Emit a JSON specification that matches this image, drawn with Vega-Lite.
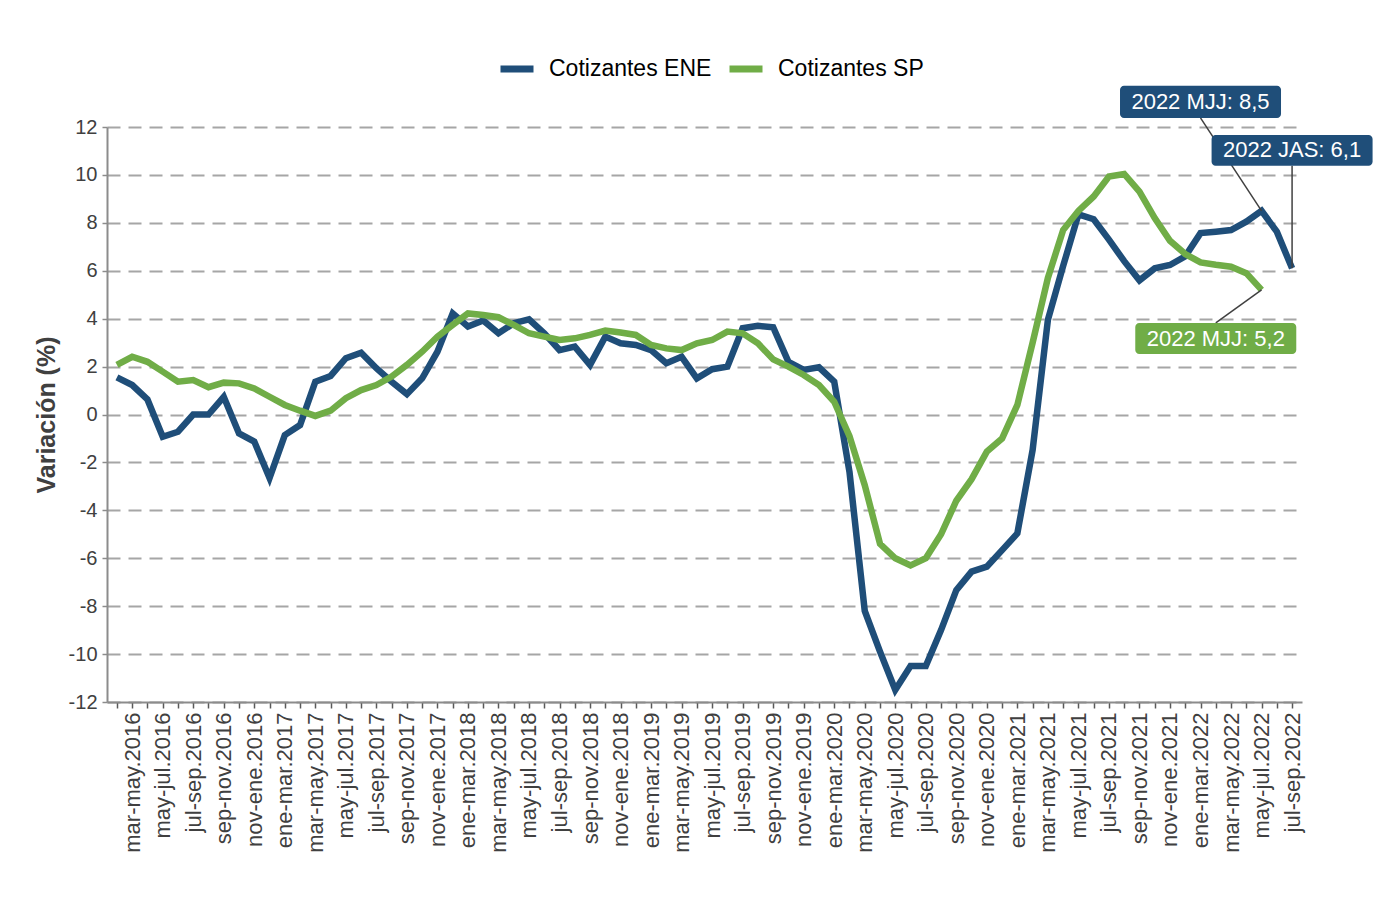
{
  "$schema": "https://vega.github.io/schema/vega-lite/v6.json",
  "width": 1195,
  "height": 575,
  "autosize": {"type": "none"},
  "padding": {"left": 107, "top": 127, "right": 84, "bottom": 213},
  "background": "white",
  "config": {
    "view": {"stroke": null},
    "font": "Liberation Sans",
    "axisY": {
      "tickCount": 13,
      "grid": true,
      "gridColor": "#A6A6A6",
      "gridDash": [13, 8],
      "gridWidth": 2,
      "domainColor": "#8C8C8C",
      "domainWidth": 2,
      "tickColor": "#8C8C8C",
      "tickSize": 5,
      "tickWidth": 1.5,
      "labelFontSize": 20,
      "labelColor": "#404040",
      "labelPadding": 5,
      "titleFontSize": 25,
      "titleFontWeight": "bold",
      "titleColor": "#404040",
      "titlePadding": 9
    },
    "axisX": {
      "grid": false,
      "domainColor": "#8C8C8C",
      "domainWidth": 2,
      "tickColor": "#595959",
      "tickSize": 6,
      "tickWidth": 1.5,
      "labelAngle": 270,
      "labelFontSize": 22,
      "labelColor": "#404040",
      "labelPadding": 4,
      "labelDy": 3,
      "labelOverlap": false
    }
  },
  "datasets": {
    "series": [
      {"periodo":"feb-abr.2016","serie":"Cotizantes ENE","valor":1.55},
      {"periodo":"mar-may.2016","serie":"Cotizantes ENE","valor":1.23},
      {"periodo":"abr-jun.2016","serie":"Cotizantes ENE","valor":0.63},
      {"periodo":"may-jul.2016","serie":"Cotizantes ENE","valor":-0.93},
      {"periodo":"jun-ago.2016","serie":"Cotizantes ENE","valor":-0.72},
      {"periodo":"jul-sep.2016","serie":"Cotizantes ENE","valor":0.0},
      {"periodo":"ago-oct.2016","serie":"Cotizantes ENE","valor":0.0},
      {"periodo":"sep-nov.2016","serie":"Cotizantes ENE","valor":0.74},
      {"periodo":"oct-dic.2016","serie":"Cotizantes ENE","valor":-0.79},
      {"periodo":"nov-ene.2016","serie":"Cotizantes ENE","valor":-1.13},
      {"periodo":"dic-feb.2016","serie":"Cotizantes ENE","valor":-2.65},
      {"periodo":"ene-mar.2017","serie":"Cotizantes ENE","valor":-0.86},
      {"periodo":"feb-abr.2017","serie":"Cotizantes ENE","valor":-0.44},
      {"periodo":"mar-may.2017","serie":"Cotizantes ENE","valor":1.37},
      {"periodo":"abr-jun.2017","serie":"Cotizantes ENE","valor":1.61},
      {"periodo":"may-jul.2017","serie":"Cotizantes ENE","valor":2.35},
      {"periodo":"jun-ago.2017","serie":"Cotizantes ENE","valor":2.58},
      {"periodo":"jul-sep.2017","serie":"Cotizantes ENE","valor":1.93},
      {"periodo":"ago-oct.2017","serie":"Cotizantes ENE","valor":1.37},
      {"periodo":"sep-nov.2017","serie":"Cotizantes ENE","valor":0.85},
      {"periodo":"oct-dic.2017","serie":"Cotizantes ENE","valor":1.51},
      {"periodo":"nov-ene.2017","serie":"Cotizantes ENE","valor":2.62},
      {"periodo":"dic-feb.2017","serie":"Cotizantes ENE","valor":4.22},
      {"periodo":"ene-mar.2018","serie":"Cotizantes ENE","valor":3.67},
      {"periodo":"feb-abr.2018","serie":"Cotizantes ENE","valor":3.92},
      {"periodo":"mar-may.2018","serie":"Cotizantes ENE","valor":3.39},
      {"periodo":"abr-jun.2018","serie":"Cotizantes ENE","valor":3.81},
      {"periodo":"may-jul.2018","serie":"Cotizantes ENE","valor":3.97},
      {"periodo":"jun-ago.2018","serie":"Cotizantes ENE","valor":3.39},
      {"periodo":"jul-sep.2018","serie":"Cotizantes ENE","valor":2.69},
      {"periodo":"ago-oct.2018","serie":"Cotizantes ENE","valor":2.83},
      {"periodo":"sep-nov.2018","serie":"Cotizantes ENE","valor":2.07},
      {"periodo":"oct-dic.2018","serie":"Cotizantes ENE","valor":3.25},
      {"periodo":"nov-ene.2018","serie":"Cotizantes ENE","valor":2.97},
      {"periodo":"dic-feb.2018","serie":"Cotizantes ENE","valor":2.9},
      {"periodo":"ene-mar.2019","serie":"Cotizantes ENE","valor":2.69},
      {"periodo":"feb-abr.2019","serie":"Cotizantes ENE","valor":2.14},
      {"periodo":"mar-may.2019","serie":"Cotizantes ENE","valor":2.41},
      {"periodo":"abr-jun.2019","serie":"Cotizantes ENE","valor":1.51},
      {"periodo":"may-jul.2019","serie":"Cotizantes ENE","valor":1.89},
      {"periodo":"jun-ago.2019","serie":"Cotizantes ENE","valor":2.0},
      {"periodo":"jul-sep.2019","serie":"Cotizantes ENE","valor":3.6},
      {"periodo":"ago-oct.2019","serie":"Cotizantes ENE","valor":3.7},
      {"periodo":"sep-nov.2019","serie":"Cotizantes ENE","valor":3.64},
      {"periodo":"oct-dic.2019","serie":"Cotizantes ENE","valor":2.2},
      {"periodo":"nov-ene.2019","serie":"Cotizantes ENE","valor":1.86},
      {"periodo":"dic-feb.2019","serie":"Cotizantes ENE","valor":1.97},
      {"periodo":"ene-mar.2020","serie":"Cotizantes ENE","valor":1.37},
      {"periodo":"feb-abr.2020","serie":"Cotizantes ENE","valor":-2.4},
      {"periodo":"mar-may.2020","serie":"Cotizantes ENE","valor":-8.2},
      {"periodo":"abr-jun.2020","serie":"Cotizantes ENE","valor":-9.9},
      {"periodo":"may-jul.2020","serie":"Cotizantes ENE","valor":-11.5},
      {"periodo":"jun-ago.2020","serie":"Cotizantes ENE","valor":-10.5},
      {"periodo":"jul-sep.2020","serie":"Cotizantes ENE","valor":-10.5},
      {"periodo":"ago-oct.2020","serie":"Cotizantes ENE","valor":-9.0},
      {"periodo":"sep-nov.2020","serie":"Cotizantes ENE","valor":-7.33},
      {"periodo":"oct-dic.2020","serie":"Cotizantes ENE","valor":-6.56},
      {"periodo":"nov-ene.2020","serie":"Cotizantes ENE","valor":-6.35},
      {"periodo":"dic-feb.2020","serie":"Cotizantes ENE","valor":-5.66},
      {"periodo":"ene-mar.2021","serie":"Cotizantes ENE","valor":-4.96},
      {"periodo":"feb-abr.2021","serie":"Cotizantes ENE","valor":-1.48},
      {"periodo":"mar-may.2021","serie":"Cotizantes ENE","valor":3.95},
      {"periodo":"abr-jun.2021","serie":"Cotizantes ENE","valor":6.2},
      {"periodo":"may-jul.2021","serie":"Cotizantes ENE","valor":8.35},
      {"periodo":"jun-ago.2021","serie":"Cotizantes ENE","valor":8.15},
      {"periodo":"jul-sep.2021","serie":"Cotizantes ENE","valor":7.3},
      {"periodo":"ago-oct.2021","serie":"Cotizantes ENE","valor":6.4},
      {"periodo":"sep-nov.2021","serie":"Cotizantes ENE","valor":5.6},
      {"periodo":"oct-dic.2021","serie":"Cotizantes ENE","valor":6.1},
      {"periodo":"nov-ene.2021","serie":"Cotizantes ENE","valor":6.24},
      {"periodo":"dic-feb.2021","serie":"Cotizantes ENE","valor":6.6},
      {"periodo":"ene-mar.2022","serie":"Cotizantes ENE","valor":7.57},
      {"periodo":"feb-abr.2022","serie":"Cotizantes ENE","valor":7.63},
      {"periodo":"mar-may.2022","serie":"Cotizantes ENE","valor":7.7},
      {"periodo":"abr-jun.2022","serie":"Cotizantes ENE","valor":8.05},
      {"periodo":"may-jul.2022","serie":"Cotizantes ENE","valor":8.5},
      {"periodo":"jun-ago.2022","serie":"Cotizantes ENE","valor":7.63},
      {"periodo":"jul-sep.2022","serie":"Cotizantes ENE","valor":6.1},
      {"periodo":"feb-abr.2016","serie":"Cotizantes SP","valor":2.07},
      {"periodo":"mar-may.2016","serie":"Cotizantes SP","valor":2.41},
      {"periodo":"abr-jun.2016","serie":"Cotizantes SP","valor":2.2},
      {"periodo":"may-jul.2016","serie":"Cotizantes SP","valor":1.79},
      {"periodo":"jun-ago.2016","serie":"Cotizantes SP","valor":1.37},
      {"periodo":"jul-sep.2016","serie":"Cotizantes SP","valor":1.44},
      {"periodo":"ago-oct.2016","serie":"Cotizantes SP","valor":1.14},
      {"periodo":"sep-nov.2016","serie":"Cotizantes SP","valor":1.33},
      {"periodo":"oct-dic.2016","serie":"Cotizantes SP","valor":1.3},
      {"periodo":"nov-ene.2016","serie":"Cotizantes SP","valor":1.09},
      {"periodo":"dic-feb.2016","serie":"Cotizantes SP","valor":0.74},
      {"periodo":"ene-mar.2017","serie":"Cotizantes SP","valor":0.4},
      {"periodo":"feb-abr.2017","serie":"Cotizantes SP","valor":0.16},
      {"periodo":"mar-may.2017","serie":"Cotizantes SP","valor":-0.06},
      {"periodo":"abr-jun.2017","serie":"Cotizantes SP","valor":0.16},
      {"periodo":"may-jul.2017","serie":"Cotizantes SP","valor":0.68},
      {"periodo":"jun-ago.2017","serie":"Cotizantes SP","valor":1.02},
      {"periodo":"jul-sep.2017","serie":"Cotizantes SP","valor":1.23},
      {"periodo":"ago-oct.2017","serie":"Cotizantes SP","valor":1.58},
      {"periodo":"sep-nov.2017","serie":"Cotizantes SP","valor":2.07},
      {"periodo":"oct-dic.2017","serie":"Cotizantes SP","valor":2.62},
      {"periodo":"nov-ene.2017","serie":"Cotizantes SP","valor":3.25},
      {"periodo":"dic-feb.2017","serie":"Cotizantes SP","valor":3.74},
      {"periodo":"ene-mar.2018","serie":"Cotizantes SP","valor":4.22},
      {"periodo":"feb-abr.2018","serie":"Cotizantes SP","valor":4.15},
      {"periodo":"mar-may.2018","serie":"Cotizantes SP","valor":4.06},
      {"periodo":"abr-jun.2018","serie":"Cotizantes SP","valor":3.74},
      {"periodo":"may-jul.2018","serie":"Cotizantes SP","valor":3.39},
      {"periodo":"jun-ago.2018","serie":"Cotizantes SP","valor":3.25},
      {"periodo":"jul-sep.2018","serie":"Cotizantes SP","valor":3.11},
      {"periodo":"ago-oct.2018","serie":"Cotizantes SP","valor":3.18},
      {"periodo":"sep-nov.2018","serie":"Cotizantes SP","valor":3.32},
      {"periodo":"oct-dic.2018","serie":"Cotizantes SP","valor":3.5},
      {"periodo":"nov-ene.2018","serie":"Cotizantes SP","valor":3.42},
      {"periodo":"dic-feb.2018","serie":"Cotizantes SP","valor":3.32},
      {"periodo":"ene-mar.2019","serie":"Cotizantes SP","valor":2.9},
      {"periodo":"feb-abr.2019","serie":"Cotizantes SP","valor":2.76},
      {"periodo":"mar-may.2019","serie":"Cotizantes SP","valor":2.69},
      {"periodo":"abr-jun.2019","serie":"Cotizantes SP","valor":2.97},
      {"periodo":"may-jul.2019","serie":"Cotizantes SP","valor":3.11},
      {"periodo":"jun-ago.2019","serie":"Cotizantes SP","valor":3.46},
      {"periodo":"jul-sep.2019","serie":"Cotizantes SP","valor":3.39},
      {"periodo":"ago-oct.2019","serie":"Cotizantes SP","valor":2.97},
      {"periodo":"sep-nov.2019","serie":"Cotizantes SP","valor":2.3},
      {"periodo":"oct-dic.2019","serie":"Cotizantes SP","valor":2.0},
      {"periodo":"nov-ene.2019","serie":"Cotizantes SP","valor":1.65},
      {"periodo":"dic-feb.2019","serie":"Cotizantes SP","valor":1.23},
      {"periodo":"ene-mar.2020","serie":"Cotizantes SP","valor":0.53},
      {"periodo":"feb-abr.2020","serie":"Cotizantes SP","valor":-0.9},
      {"periodo":"mar-may.2020","serie":"Cotizantes SP","valor":-2.95},
      {"periodo":"abr-jun.2020","serie":"Cotizantes SP","valor":-5.4},
      {"periodo":"may-jul.2020","serie":"Cotizantes SP","valor":-6.0},
      {"periodo":"jun-ago.2020","serie":"Cotizantes SP","valor":-6.3},
      {"periodo":"jul-sep.2020","serie":"Cotizantes SP","valor":-6.0},
      {"periodo":"ago-oct.2020","serie":"Cotizantes SP","valor":-5.0},
      {"periodo":"sep-nov.2020","serie":"Cotizantes SP","valor":-3.6},
      {"periodo":"oct-dic.2020","serie":"Cotizantes SP","valor":-2.7},
      {"periodo":"nov-ene.2020","serie":"Cotizantes SP","valor":-1.55},
      {"periodo":"dic-feb.2020","serie":"Cotizantes SP","valor":-1.0},
      {"periodo":"ene-mar.2021","serie":"Cotizantes SP","valor":0.4},
      {"periodo":"feb-abr.2021","serie":"Cotizantes SP","valor":3.0},
      {"periodo":"mar-may.2021","serie":"Cotizantes SP","valor":5.7},
      {"periodo":"abr-jun.2021","serie":"Cotizantes SP","valor":7.7},
      {"periodo":"may-jul.2021","serie":"Cotizantes SP","valor":8.5},
      {"periodo":"jun-ago.2021","serie":"Cotizantes SP","valor":9.1},
      {"periodo":"jul-sep.2021","serie":"Cotizantes SP","valor":9.93},
      {"periodo":"ago-oct.2021","serie":"Cotizantes SP","valor":10.04},
      {"periodo":"sep-nov.2021","serie":"Cotizantes SP","valor":9.3},
      {"periodo":"oct-dic.2021","serie":"Cotizantes SP","valor":8.2},
      {"periodo":"nov-ene.2021","serie":"Cotizantes SP","valor":7.25},
      {"periodo":"dic-feb.2021","serie":"Cotizantes SP","valor":6.7},
      {"periodo":"ene-mar.2022","serie":"Cotizantes SP","valor":6.35},
      {"periodo":"feb-abr.2022","serie":"Cotizantes SP","valor":6.25},
      {"periodo":"mar-may.2022","serie":"Cotizantes SP","valor":6.17},
      {"periodo":"abr-jun.2022","serie":"Cotizantes SP","valor":5.9},
      {"periodo":"may-jul.2022","serie":"Cotizantes SP","valor":5.2}
    ],
    "leaders": [
      {"periodo":"ene-mar.2022","periodo2":"may-jul.2022","y1":12.38,"y2":8.5},
      {"periodo":"jul-sep.2022","periodo2":"jul-sep.2022","y1":10.38,"y2":6.1},
      {"periodo":"feb-abr.2022","periodo2":"may-jul.2022","y1":3.82,"y2":5.2}
    ],
    "etiquetas": [
      {"periodo":"ene-mar.2022","serie":"Cotizantes ENE","arriba":13.72,"abajo":12.38,"medio":13.05,"texto":"2022 MJJ: 8,5"},
      {"periodo":"jul-sep.2022","serie":"Cotizantes ENE","arriba":11.67,"abajo":10.38,"medio":11.03,"texto":"2022 JAS: 6,1"},
      {"periodo":"feb-abr.2022","serie":"Cotizantes SP","arriba":3.82,"abajo":2.53,"medio":3.17,"texto":"2022 MJJ: 5,2"}
    ]
  },
  "encoding": {
    "x": {
      "field": "periodo",
      "type": "ordinal",
      "sort": null,
      "title": null,
      "scale": {
        "type": "point",
        "padding": 0.65,
        "domain": ["feb-abr.2016","mar-may.2016","abr-jun.2016","may-jul.2016","jun-ago.2016","jul-sep.2016","ago-oct.2016","sep-nov.2016","oct-dic.2016","nov-ene.2016","dic-feb.2016",
          "ene-mar.2017","feb-abr.2017","mar-may.2017","abr-jun.2017","may-jul.2017","jun-ago.2017","jul-sep.2017","ago-oct.2017","sep-nov.2017","oct-dic.2017","nov-ene.2017","dic-feb.2017",
          "ene-mar.2018","feb-abr.2018","mar-may.2018","abr-jun.2018","may-jul.2018","jun-ago.2018","jul-sep.2018","ago-oct.2018","sep-nov.2018","oct-dic.2018","nov-ene.2018","dic-feb.2018",
          "ene-mar.2019","feb-abr.2019","mar-may.2019","abr-jun.2019","may-jul.2019","jun-ago.2019","jul-sep.2019","ago-oct.2019","sep-nov.2019","oct-dic.2019","nov-ene.2019","dic-feb.2019",
          "ene-mar.2020","feb-abr.2020","mar-may.2020","abr-jun.2020","may-jul.2020","jun-ago.2020","jul-sep.2020","ago-oct.2020","sep-nov.2020","oct-dic.2020","nov-ene.2020","dic-feb.2020",
          "ene-mar.2021","feb-abr.2021","mar-may.2021","abr-jun.2021","may-jul.2021","jun-ago.2021","jul-sep.2021","ago-oct.2021","sep-nov.2021","oct-dic.2021","nov-ene.2021","dic-feb.2021",
          "ene-mar.2022","feb-abr.2022","mar-may.2022","abr-jun.2022","may-jul.2022","jun-ago.2022","jul-sep.2022"]
      },
      "axis": {
        "labelExpr": "indexof(['mar','may','jul','sep','nov','ene'], slice(datum.label, 0, 3)) >= 0 ? datum.label : ''"
      }
    }
  },
  "layer": [
    {
      "data": {"name": "series"},
      "mark": {"type": "line", "strokeWidth": 6.5},
      "encoding": {
        "y": {
          "field": "valor",
          "type": "quantitative",
          "title": "Variación (%)",
          "scale": {"domain": [-12, 12], "nice": false, "zero": false},
          "axis": {"labelExpr": "'' + datum.value"}
        },
        "color": {
          "field": "serie",
          "type": "nominal",
          "scale": {"domain": ["Cotizantes ENE", "Cotizantes SP"], "range": ["#1F4E79", "#70AD47"]},
          "legend": {
            "title": null,
            "orient": "none",
            "legendX": 390,
            "legendY": -78,
            "direction": "horizontal",
            "symbolType": "stroke",
            "symbolSize": 1089,
            "symbolStrokeWidth": 7,
            "labelFontSize": 23,
            "labelColor": "#000000",
            "labelLimit": 0,
            "labelOffset": 12,
            "columnPadding": 3
          }
        }
      }
    },
    {
      "data": {"name": "leaders"},
      "mark": {"type": "rule", "color": "#404040", "strokeWidth": 1.5},
      "encoding": {
        "x2": {"field": "periodo2"},
        "y": {"field": "y1", "type": "quantitative", "title": "Variación (%)"},
        "y2": {"field": "y2"}
      }
    },
    {
      "data": {"name": "etiquetas"},
      "mark": {"type": "rect", "width": 161, "cornerRadius": 4},
      "encoding": {
        "y": {"field": "arriba", "type": "quantitative", "title": "Variación (%)"},
        "y2": {"field": "abajo"},
        "color": {"field": "serie", "type": "nominal", "legend": null}
      }
    },
    {
      "data": {"name": "etiquetas"},
      "mark": {"type": "text", "color": "white", "fontSize": 22, "align": "center", "baseline": "middle"},
      "encoding": {
        "y": {"field": "medio", "type": "quantitative", "title": "Variación (%)"},
        "text": {"field": "texto"}
      }
    }
  ]
}
